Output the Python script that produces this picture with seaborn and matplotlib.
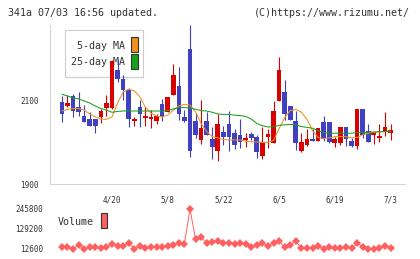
import numpy as np
import pandas as pd
import matplotlib
matplotlib.use("Agg")
import matplotlib.pyplot as plt
import seaborn as sns
from matplotlib.patches import Rectangle

# daily candles (index 0 = oldest)
opens = [2080, 2095, 2086, 2110, 2083, 2062, 2056, 2056, 2060, 2080,
         2080, 2171, 2150, 2124, 2049, 2083, 2057, 2056, 2051, 2090,
         2072, 2112, 2133, 2060, 2221, 2049, 2006, 2050, 2008, 1979,
         2024, 2044, 2021, 2017, 2005, 2018, 2013, 1967, 2013, 1998,
         2098, 2119, 2086, 2050, 1979, 1994, 2007, 2003, 2048, 2048,
         1998, 1998, 2036, 2002, 1991, 2079, 2026, 2017, 2010, 2026, 2022]
closes = [2080, 2067, 2092, 2075, 2072, 2048, 2038, 2038, 2075, 2093,
          2194, 2150, 2124, 2054, 2055, 2066, 2062, 2060, 2062, 2060,
          2108, 2160, 2067, 2049, 1979, 2017, 2033, 2017, 1989, 2044,
          2011, 2011, 1994, 1999, 2009, 2009, 1977, 2000, 2019, 2074,
          2171, 2067, 2053, 1998, 2000, 2007, 2003, 2033, 2008, 2001,
          2007, 2036, 2008, 1990, 2079, 2017, 2001, 2024, 2015, 2036, 2029]
highs = [2080, 2110, 2111, 2114, 2120, 2088, 2072, 2056, 2078, 2112,
         2196, 2199, 2160, 2128, 2060, 2100, 2083, 2076, 2068, 2102,
         2108, 2187, 2179, 2076, 2279, 2070, 2100, 2072, 2036, 2067,
         2038, 2074, 2031, 2055, 2021, 2023, 2017, 2036, 2031, 2098,
         2202, 2149, 2086, 2074, 2021, 2031, 2031, 2033, 2062, 2048,
         2013, 2036, 2036, 2009, 2079, 2079, 2043, 2024, 2043, 2071, 2043]
lows = [2080, 2048, 2084, 2060, 2062, 2048, 2038, 2021, 2045, 2062,
        2078, 2144, 2100, 2036, 2038, 2035, 2038, 2033, 2044, 2050,
        2072, 2112, 2052, 2048, 1965, 2010, 1995, 2017, 1960, 1955,
        1993, 1979, 1984, 1987, 1989, 2005, 1961, 1960, 1987, 1998,
        2098, 2052, 2052, 1981, 1976, 1990, 2003, 2003, 2003, 1998,
        1989, 1994, 1991, 1989, 1984, 2010, 2001, 1996, 2001, 2015, 2005]

nan = np.nan
ma5 = [nan, 2074, 2078, 2080, 2080, 2076, 2067, 2060, 2055, 2054,
       2060, 2093, 2119, 2126, 2122, 2108, 2083, 2069, 2062, 2060,
       2064, 2076, 2086, 2090, 2088, 2072, 2044, 2025, 2013, 2010,
       2006, 2005, 2005, 2005, 2002, 2001, 2000, 1999, 1999, 2004,
       2032, 2058, 2075, 2078, 2071, 2054, 2027, 2011, 2008, 2010,
       2013, 2013, 2013, 2010, 2011, 2017, 2021, 2023, 2024, 2025, 2025]
ma25 = [nan, 2114, 2110, 2105, 2103, 2098, 2093, 2086, 2080, 2076,
        2071, 2073, 2074, 2074, 2074, 2074, 2074, 2074, 2074, 2074,
        2075, 2079, 2082, 2082, 2081, 2078, 2075, 2074, 2071, 2067,
        2066, 2066, 2064, 2063, 2061, 2055, 2044, 2039, 2036, 2036,
        2040, 2041, 2042, 2041, 2037, 2035, 2033, 2027, 2023, 2021,
        2021, 2021, 2021, 2021, 2023, 2023, 2023, 2024, 2025, 2025, 2026]
volume = [nan, 22500, 22500, 12600, 35900, 14400, 22500, 22500, 18400, 22500,
          41800, 30100, 30100, 49300, 14400, 30100, 16700, 22500, 22500, 22500,
          30100, 35900, 49300, 41800, 245800, 69100, 82000, 49300, 53400, 59200,
          49300, 49300, 41800, 49300, 41800, 22500, 35900, 49300, 30100, 49300,
          59200, 22500, 35900, 59200, 16700, 16700, 16700, 30100, 12600, 22500,
          16700, 16700, 22500, 16700, 49300, 26000, 12600, 12600, 16700, 30100, 16700]

date_labels = ["4/20", "5/8", "5/22", "6/5", "6/19", "7/3"]
date_pos = [10, 20, 30, 40, 50, 60]
price_ticks = [1900, 2100]
vol_ticks = [12600, 129200, 245800]

RED = "#d90000"
BLUE = "#4040c0"
GRID = "#d4d4d4"
TXT = "#333333"

sns.set_style("white")
plt.rcParams['font.family'] = ['DejaVu Sans Mono']

df = pd.DataFrame({"day": np.arange(len(opens)), "open": opens, "close": closes,
                   "high": highs, "low": lows, "ma5": ma5, "ma25": ma25, "volume": volume})
df["up"] = df["close"] >= df["open"]
colors = np.where(df["up"], RED, BLUE)

W, H = 420, 259
fig = plt.figure(figsize=(W / 100, H / 100), dpi=100)
ax = fig.add_axes([50 / W, (H - 184) / H, 355 / W, 159 / H])
axv = fig.add_axes([50 / W, (H - 253) / H, 355 / W, 48 / H])
ax.patch.set_alpha(0)
axv.patch.set_alpha(0)

xlo, xhi = -1.13, 62.6

# candles
ax.vlines(df["day"], df["low"], df["high"], colors=colors, lw=0.8, zorder=3)
body_lo = df[["open", "close"]].min(axis=1)
body_h = (df["close"] - df["open"]).abs().clip(lower=1.5)
ax.bar(df["day"], body_h, bottom=body_lo, width=0.84, color=colors, lw=0, zorder=4)

# moving averages
sns.lineplot(data=df, x="day", y="ma5", ax=ax, color="#f0901e", lw=0.75, zorder=5)
sns.lineplot(data=df, x="day", y="ma25", ax=ax, color="#19a019", lw=0.75, zorder=5)

ax.set_xlim(xlo, xhi)
ax.set_ylim(1900, 2279)
ax.set_xlabel("")
ax.set_ylabel("")
ax.set_yticks(price_ticks)
ax.set_yticklabels([str(t) for t in price_ticks])
ax.set_xticks(np.linspace(xlo, xhi, 12))
ax.set_xticklabels([])
ax.set_xticks(date_pos, minor=True)
ax.set_xticklabels(date_labels, minor=True)
ax.tick_params(axis="y", length=5, width=0.75, color=GRID, labelsize=5.5, pad=3, labelcolor=TXT)
ax.tick_params(axis="x", which="major", direction="inout", length=7, width=0.75, color=GRID)
ax.tick_params(axis="x", which="minor", length=0, pad=8, labelsize=5.5, labelcolor=TXT)
for s in ["top", "right"]:
    ax.spines[s].set_visible(False)
for s in ["left", "bottom"]:
    ax.spines[s].set_color(GRID)
    ax.spines[s].set_linewidth(0.75)

# volume
sns.lineplot(data=df, x="day", y="volume", ax=axv, color="#ff6060", lw=0.7,
             marker="D", markersize=4.2, markeredgewidth=0)
axv.set_xlim(xlo, xhi)
axv.set_ylim(-10720, 269120)
axv.set_xlabel("")
axv.set_ylabel("")
axv.set_xticks([])
axv.set_yticks(vol_ticks)
axv.set_yticklabels([str(t) for t in vol_ticks])
axv.tick_params(axis="y", length=0, labelsize=5.5, pad=5, labelcolor=TXT)
for s in axv.spines.values():
    s.set_visible(False)

# legend box for moving averages (sits under the candles)
fig.patches.append(Rectangle((65 / W, (H - 77) / H), 78 / W, 47 / H, transform=fig.transFigure,
                             facecolor="white", edgecolor="#cccccc", lw=0.8, zorder=-2))
fig.text(125 / W, 1 - 46 / H, "5-day MA", ha="right", va="center", fontsize=7.2, color=TXT, zorder=-1)
fig.text(125 / W, 1 - 62 / H, "25-day MA", ha="right", va="center", fontsize=7.2, color=TXT, zorder=-1)
fig.patches.append(Rectangle((131 / W, (H - 51.5) / H), 6.5 / W, 15 / H, transform=fig.transFigure,
                             facecolor="#f0901e", edgecolor="#333333", lw=0.8, zorder=-1))
fig.patches.append(Rectangle((131 / W, (H - 69) / H), 6.5 / W, 15 / H, transform=fig.transFigure,
                             facecolor="#19a019", edgecolor="#333333", lw=0.8, zorder=-1))

# volume legend
fig.text(58 / W, 1 - 222 / H, "Volume", ha="left", va="center", fontsize=7.2, color=TXT)
fig.patches.append(Rectangle((101 / W, (H - 228) / H), 6.5 / W, 15 / H, transform=fig.transFigure,
                             facecolor="#ff6060", edgecolor="#333333", lw=0.8))

# header
fig.text(8 / W, 1 - 13 / H, "341a 07/03 16:56 updated.", ha="left", va="center", fontsize=7.2, color=TXT)
fig.text(410 / W, 1 - 13 / H, "(C)https://www.rizumu.net/", ha="right", va="center", fontsize=7.2, color=TXT)

fig.savefig("out.png", dpi=100)
